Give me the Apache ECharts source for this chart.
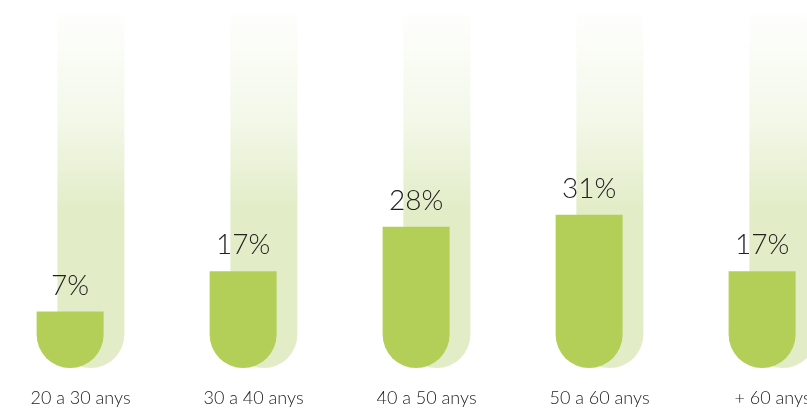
<!DOCTYPE html>
<html>
<head>
<meta charset="utf-8">
<script src="https://cdn.jsdelivr.net/npm/echarts@6/dist/echarts.min.js"></script>
<style>html,body{margin:0;padding:0;background:#fff;}#c{width:807px;height:410px;}</style>
</head>
<body>
<div id="c"></div>
<script>
const categories = ['20 a 30 anys', '30 a 40 anys', '40 a 50 anys', '50 a 60 anys', '+ 60 anys'];
const values = [7, 17, 28, 31, 17];
const axisMin = -7;
const axisMax = 81;
const trackValues = categories.map(() => axisMax);

const chart = echarts.init(document.getElementById('c'), null, {renderer: 'canvas'});
const lightFont = '"Lato Light", Lato, "Open Sans", "Noto Sans", sans-serif';
chart.setOption({
  animation: false,
  grid: {left: -6, width: 865, top: 13, height: 355, outerBoundsMode: 'none'},
  xAxis: {
    type: 'category',
    data: categories,
    axisLine: {show: false},
    axisTick: {show: false},
    axisLabel: {margin: 21, fontSize: 18, color: '#222', fontFamily: lightFont, fontWeight: 300}
  },
  yAxis: {
    type: 'value', min: axisMin, max: axisMax, startValue: axisMin,
    show: false, splitLine: {show: false}
  },
  series: [
    {
      name: 'valor', type: 'bar', data: values, z: 3,
      barWidth: 67, barGap: '-69%',
      itemStyle: {color: '#b4cf58', borderRadius: [0, 0, 34, 34]},
      label: {show: true, position: 'top', distance: 12, formatter: '{c}%',
        fontSize: 28, color: '#222', fontFamily: lightFont, fontWeight: 300}
    },
    {
      name: 'fons', type: 'bar', data: trackValues, z: 2,
      barWidth: 67, silent: true,
      itemStyle: {
        borderRadius: [0, 0, 34, 34],
        color: new echarts.graphic.LinearGradient(0, 0, 0, 1, [
          {offset: 0, color: 'rgba(226,237,200,0.03)'},
          {offset: 0.3, color: 'rgba(226,237,200,0.4)'},
          {offset: 0.55, color: 'rgba(226,237,200,1)'},
          {offset: 1, color: 'rgba(226,237,200,1)'}
        ])
      }
    }
  ]
});
</script>
</body>
</html>
